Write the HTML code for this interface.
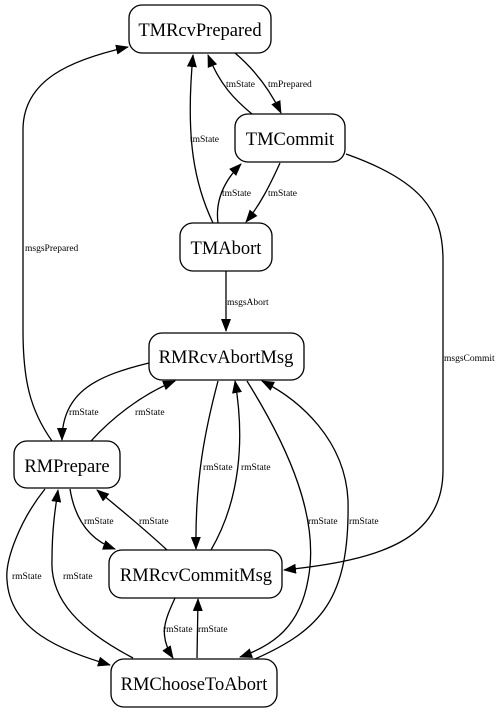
<!DOCTYPE html>
<html><head><meta charset="utf-8"><style>
html,body{margin:0;padding:0;background:#fff;}
svg{display:block;}
.n{fill:#fff;stroke:#000;stroke-width:1.3;}
.t{font-family:"Liberation Serif",serif;font-size:18.5px;text-anchor:middle;}
.l{font-family:"Liberation Serif",serif;font-size:9.5px;}
.e{fill:none;stroke:#000;stroke-width:1.3;marker-end:url(#a);}
</style></head><body>
<svg width="504" height="713" viewBox="0 0 504 713" xmlns="http://www.w3.org/2000/svg">
<defs><marker id="a" markerWidth="13" markerHeight="10" refX="12" refY="5" orient="auto" markerUnits="userSpaceOnUse"><path d="M0,0 L13,5 L0,10 z" fill="#000"/></marker></defs>

<rect class="n" x="129" y="5" width="142" height="48" rx="13"/><text class="t" x="200" y="36">TMRcvPrepared</text>
<rect class="n" x="235" y="114" width="110" height="48" rx="13"/><text class="t" x="290" y="145">TMCommit</text>
<rect class="n" x="180" y="223" width="92" height="48" rx="13"/><text class="t" x="226" y="254">TMAbort</text>
<rect class="n" x="149" y="333" width="155" height="47" rx="13"/><text class="t" x="226" y="363">RMRcvAbortMsg</text>
<rect class="n" x="14" y="441" width="106" height="47" rx="13"/><text class="t" x="67" y="472">RMPrepare</text>
<rect class="n" x="109" y="550" width="173" height="48" rx="13"/><text class="t" x="196" y="581">RMRcvCommitMsg</text>
<rect class="n" x="111" y="659" width="166" height="48" rx="13"/><text class="t" x="194" y="690">RMChooseToAbort</text>

<path class="e" d="M52,441 C30,410 23,380 23,330 L23,130 C23,80 70,60 128,47"/>
<text class="l" x="25" y="251">msgsPrepared</text>
<path class="e" d="M213,223 C195,185 185,140 193,55"/>
<text class="l" x="190" y="142">tmState</text>
<path class="e" d="M252,114 C235,100 220,85 208,55"/>
<text class="l" x="226" y="87">tmState</text>
<path class="e" d="M235,53 C255,70 270,90 281,113"/>
<text class="l" x="268" y="87">tmPrepared</text>
<path class="e" d="M218,223 C215,200 225,180 241,164"/>
<text class="l" x="222" y="196">tmState</text>
<path class="e" d="M280,163 C270,185 260,205 246,222"/>
<text class="l" x="268" y="196">tmState</text>
<path class="e" d="M226,271 L226,331"/>
<text class="l" x="227" y="305">msgsAbort</text>
<path class="e" d="M346,154 C420,180 443,210 443,260 L443,470 C443,540 380,560 284,570"/>
<text class="l" x="444" y="361">msgsCommit</text>

<path class="e" d="M149,363 C100,375 62,390 62,440"/>
<text class="l" x="69" y="415">rmState</text>
<path class="e" d="M91,441 C110,420 140,395 175,381"/>
<text class="l" x="135" y="415">rmState</text>
<path class="e" d="M218,381 C205,430 195,480 196,549"/>
<text class="l" x="203" y="470">rmState</text>
<path class="e" d="M211,550 C240,500 245,440 235,381"/>
<text class="l" x="241" y="470">rmState</text>
<path class="e" d="M247,381 C290,450 320,520 308,580 C300,625 275,645 240,657"/>
<text class="l" x="308" y="524">rmState</text>
<path class="e" d="M255,659 C320,630 350,600 348,500 C345,440 300,400 262,381"/>
<text class="l" x="349" y="524">rmState</text>
<path class="e" d="M70,489 C75,520 90,540 115,549"/>
<text class="l" x="84" y="524">rmState</text>
<path class="e" d="M167,550 C140,525 115,505 97,490"/>
<text class="l" x="139" y="524">rmState</text>
<path class="e" d="M45,489 C20,520 5,560 7,580 C10,630 60,650 110,665"/>
<text class="l" x="12" y="579">rmState</text>
<path class="e" d="M133,658 C80,630 50,600 52,560 C52,530 55,510 58,490"/>
<text class="l" x="63" y="579">rmState</text>
<path class="e" d="M175,598 C165,620 158,635 173,658"/>
<text class="l" x="163" y="632">rmState</text>
<path class="e" d="M197,658 L198,599"/>
<text class="l" x="198" y="632">rmState</text>
</svg>
</body></html>
